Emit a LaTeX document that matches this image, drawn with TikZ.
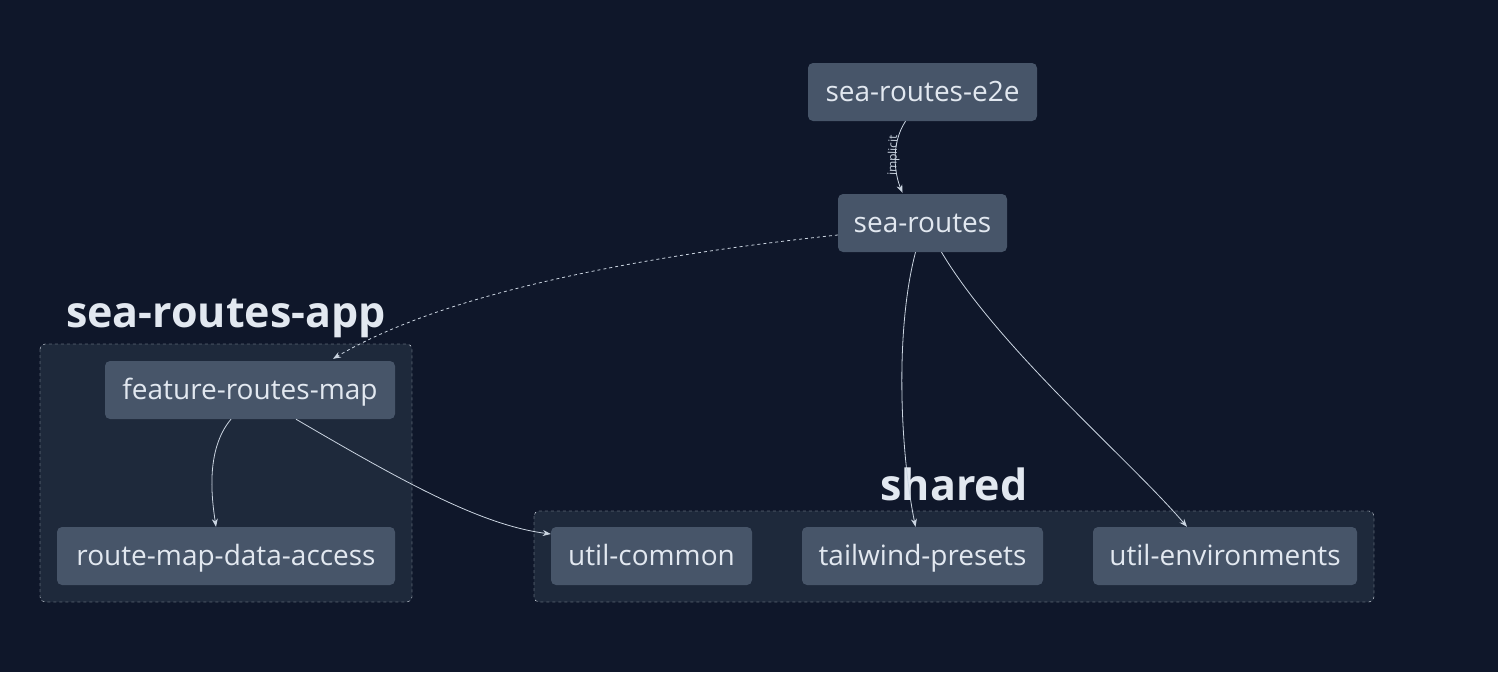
\documentclass[tikz,border=0pt]{standalone}
\usepackage{fontspec}
\setmainfont{Open Sans}
\usetikzlibrary{arrows.meta,calc}
\definecolor{bgc}{HTML}{0F172A}
\definecolor{grpc}{HTML}{1E293B}
\definecolor{nodec}{HTML}{475569}
\definecolor{txtc}{HTML}{E2E8F0}
\definecolor{linec}{HTML}{CBD5E1}
\begin{document}
\begin{tikzpicture}[x=1pt,y=-1pt,
    proj/.style={fill=nodec,rounded corners=5pt,text=txtc,inner sep=0pt,
      minimum height=58pt,text height=22pt,text depth=4pt,font=\fontsize{28}{32}\selectfont},
    grp/.style={fill=grpc,draw=linec!70,dashed,rounded corners=5pt},
    grplabel/.style={text=txtc,font=\fontsize{43}{50}\selectfont\bfseries},
    dep/.style={draw=linec,line width=0.8pt,-{Stealth[length=8pt,width=6pt]}}]
  \fill[bgc] (0,0) rectangle (1498,672);
  \useasboundingbox (0,0) rectangle (1498,672);
  % groups
  \draw[grp] (40,344) rectangle (412,602);
  \node[grplabel] (lblapp) at (226,318) {sea-routes-app};
  \draw[grp] (534,511) rectangle (1374,602);
  \node[grplabel] (lblshared) at (954,484) {shared};
  % projects
  \node[proj,minimum width=229pt] (e2e) at (922.5,92) {sea-routes-e2e};
  \node[proj,minimum width=169pt] (routes) at (922.5,223) {sea-routes};
  \node[proj,minimum width=290pt] (featmap) at (250,390) {feature-routes-map};
  \node[proj,minimum width=338pt] (dataacc) at (226,556) {route-map-data-access};
  \node[proj,minimum width=201pt] (common) at (651.5,556) {util-common};
  \node[proj,minimum width=241pt] (presets) at (922.5,556) {tailwind-presets};
  \node[proj,minimum width=264pt] (envs) at (1225,556) {util-environments};
  % dependencies
  \draw[dep] ($(e2e.south)+(-17,0)$) .. controls (890,145) and (895,175) .. ($(routes.north)+(-20,-1)$)
    node[pos=0.45,sloped,above=-8pt,text=linec,font=\fontsize{12}{12}\selectfont] {implicit};
  \draw[dep,dashed] ($(routes.west)+(0,12)$) .. controls (650,255) and (450,290) .. ($(featmap.north)+(83,-2)$);
  \draw[dep] ($(routes.south)+(-7,0)$) .. controls (895,330) and (900,450) .. ($(presets.north)+(-7,0)$);
  \draw[dep] ($(routes.south)+(19,0)$) .. controls (1000,350) and (1130,460) .. ($(envs.north)+(-38,0)$);
  \draw[dep] ($(featmap.south)+(-19,0)$) .. controls (205,450) and (212,500) .. ($(dataacc.north)+(-10,0)$);
  \draw[dep] ($(featmap.south)+(46,0)$) .. controls (400,480) and (480,525) .. ($(common.west)+(0,-22)$);
\end{tikzpicture}
\end{document}
